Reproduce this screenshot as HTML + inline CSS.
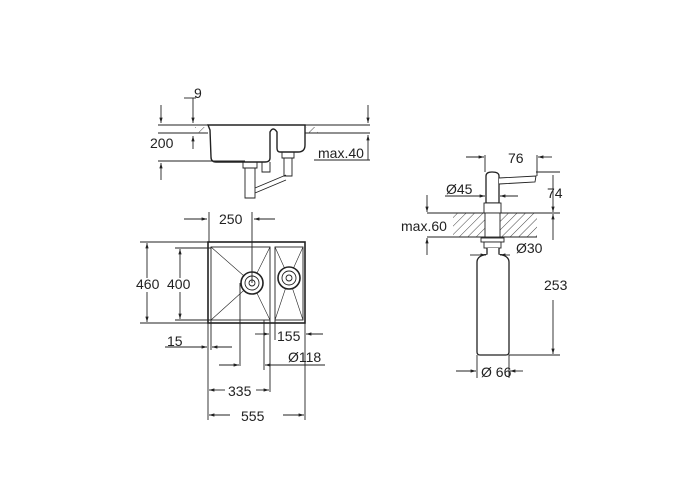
<!DOCTYPE html>
<html><head><style>body{margin:0;background:#fff}svg{display:block}text{font-family:"Liberation Sans",sans-serif;font-size:14px;fill:#222}</style></head><body>
<svg width="700" height="500" viewBox="0 0 700 500" xmlns="http://www.w3.org/2000/svg">
<defs>
<marker id="a" viewBox="0 0 10 10" refX="10" refY="5" markerWidth="8" markerHeight="6" orient="auto-start-reverse"><path d="M0,2L10,5L0,8z" fill="#222"/></marker>
<pattern id="h" width="6" height="6" patternUnits="userSpaceOnUse" patternTransform="rotate(45)"><line x1="0" y1="0" x2="0" y2="6" stroke="#444" stroke-width="1"/></pattern>
</defs>
<g stroke="#222" fill="none" stroke-width="0.9">
<!-- section view -->
<line x1="158" y1="125" x2="370" y2="125"/>
<line x1="158" y1="133" x2="208" y2="133"/>
<line x1="305" y1="133" x2="370" y2="133"/>
<rect x="195" y="127" width="12" height="6" fill="url(#h)" stroke="none"/>
<rect x="306" y="127" width="12" height="6" fill="url(#h)" stroke="none"/>
<path d="M208,125 L305,125 L305,145 Q305,152 298,152 L280,152 Q277,152 277,148 L277,132 Q273,126 270,132 L270,158 Q270,162 265,162 L216,162 Q211,162 211,157 L210,130 Z" stroke-width="1.4"/>
<line x1="158" y1="161" x2="245" y2="161"/>
<path d="M243,162 h14 v6 h-14z M245,168 h10 v30 h-10z M282,152 h12 v6 h-12z M284,158 h8 v18 h-8z M255,188 L286,175 M255,193 L286,180" />
<path d="M262,162 v10 h8 v-10"/>
<!-- 9 / 200 dims -->
<line x1="184" y1="98" x2="196" y2="98"/><line x1="193" y1="98" x2="193" y2="110"/>
<line x1="161" y1="105" x2="161" y2="123" marker-end="url(#a)"/>
<line x1="193" y1="110" x2="193" y2="123" marker-end="url(#a)"/>
<line x1="193" y1="149" x2="193" y2="136" marker-end="url(#a)"/>
<line x1="161" y1="180" x2="161" y2="163" marker-end="url(#a)"/>
<line x1="368" y1="105" x2="368" y2="123" marker-end="url(#a)"/>
<line x1="368" y1="160" x2="368" y2="135" marker-end="url(#a)"/>
<line x1="314" y1="160" x2="370" y2="160"/>
<!-- top view -->
<rect x="208" y="242" width="97" height="81" stroke-width="1.6"/>
<rect x="211" y="247" width="59" height="73"/>
<rect x="275" y="247" width="28" height="73"/>
<path d="M211,247 L252,283 L211,320 M270,247 L252,283 L270,320 M275,247 L289,278 L303,247 M275,320 L289,278 L303,320" stroke-width="0.6"/>
<circle cx="252" cy="283" r="11" fill="#fff" stroke-width="1.6"/><circle cx="252" cy="283" r="7"/><circle cx="252" cy="283" r="3"/>
<circle cx="289" cy="278" r="11" fill="#fff" stroke-width="1.6"/><circle cx="289" cy="278" r="7"/><circle cx="289" cy="278" r="3"/>
<line x1="140" y1="242" x2="208" y2="242"/><line x1="140" y1="323" x2="208" y2="323"/>
<line x1="175" y1="248" x2="211" y2="248"/><line x1="175" y1="320" x2="211" y2="320"/>
<line x1="147" y1="278" x2="147" y2="243" marker-end="url(#a)"/><line x1="147" y1="292" x2="147" y2="322" marker-end="url(#a)"/>
<line x1="180" y1="278" x2="180" y2="249" marker-end="url(#a)"/><line x1="180" y1="292" x2="180" y2="319" marker-end="url(#a)"/>
<line x1="184" y1="219" x2="207" y2="219" marker-end="url(#a)"/><line x1="275" y1="219" x2="254" y2="219" marker-end="url(#a)"/>
<line x1="209" y1="212" x2="209" y2="242"/><line x1="252" y1="212" x2="252" y2="283"/>
<line x1="208" y1="323" x2="208" y2="420"/><line x1="211" y1="320" x2="211" y2="350"/>
<line x1="240" y1="283" x2="240" y2="366"/>
<line x1="270" y1="320" x2="270" y2="392"/><line x1="264" y1="320" x2="264" y2="370"/>
<line x1="275" y1="320" x2="275" y2="340"/><line x1="305" y1="323" x2="305" y2="420"/>
<line x1="165" y1="347" x2="207" y2="347" marker-end="url(#a)"/><line x1="232" y1="347" x2="212" y2="347" marker-end="url(#a)"/>
<line x1="219" y1="365" x2="239" y2="365" marker-end="url(#a)"/><line x1="325" y1="365" x2="265" y2="365" marker-end="url(#a)"/>
<line x1="255" y1="334" x2="269" y2="334" marker-end="url(#a)"/><line x1="323" y1="334" x2="306" y2="334" marker-end="url(#a)"/>
<line x1="225" y1="390" x2="209" y2="390" marker-end="url(#a)"/><line x1="256" y1="390" x2="269" y2="390" marker-end="url(#a)"/>
<line x1="230" y1="415" x2="209" y2="415" marker-end="url(#a)"/><line x1="283" y1="415" x2="304" y2="415" marker-end="url(#a)"/>
<!-- dispenser -->
<rect x="453" y="213" width="84" height="24" fill="url(#h)" stroke="none"/>
<line x1="453" y1="213" x2="560" y2="213"/><line x1="453" y1="237" x2="537" y2="237"/>
<path d="M486,203 L486,176 Q486,172 492,172 Q499,172 499,176 L499,203 Z" fill="#fff" stroke-width="1.3"/>
<path d="M499,178 L536,176 L535,182 L499,184" fill="#fff"/>
<rect x="484" y="203" width="17" height="10" fill="#fff"/>
<rect x="485" y="213" width="15" height="24" fill="#fff"/>
<rect x="481" y="238" width="23" height="4" fill="#fff"/><rect x="484" y="242" width="17" height="6" fill="#fff"/>
<path d="M487,248 L487,254 Q477,256 477,262 L477,352 Q477,355 480,355 L506,355 Q509,355 509,352 L509,262 Q509,256 499,254 L499,248" fill="#fff" stroke-width="1.3"/>
<line x1="485" y1="155" x2="485" y2="172"/><line x1="537" y1="155" x2="537" y2="176"/>
<line x1="466" y1="157" x2="484" y2="157" marker-end="url(#a)"/><line x1="552" y1="157" x2="538" y2="157" marker-end="url(#a)"/>
<line x1="536" y1="172" x2="560" y2="172"/>
<line x1="553" y1="175" x2="553" y2="212" marker-end="url(#a)"/>
<line x1="553" y1="240" x2="553" y2="214" marker-end="url(#a)"/>
<line x1="553" y1="300" x2="553" y2="354" marker-end="url(#a)"/>
<line x1="509" y1="355" x2="560" y2="355"/>
<line x1="445" y1="196" x2="485" y2="196" marker-end="url(#a)"/><line x1="518" y1="196" x2="500" y2="196" marker-end="url(#a)"/>
<line x1="427" y1="213" x2="453" y2="213"/><line x1="427" y1="237" x2="453" y2="237"/>
<line x1="427" y1="195" x2="427" y2="212" marker-end="url(#a)"/><line x1="427" y1="255" x2="427" y2="238" marker-end="url(#a)"/>
<line x1="470" y1="255" x2="486" y2="255" marker-end="url(#a)"/><line x1="510" y1="255" x2="500" y2="255" marker-end="url(#a)"/>
<line x1="456" y1="371" x2="476" y2="371" marker-end="url(#a)"/><line x1="523" y1="371" x2="510" y2="371" marker-end="url(#a)"/>
<line x1="477" y1="355" x2="477" y2="378"/><line x1="509" y1="355" x2="509" y2="378"/>
</g>
<text x="194" y="98">9</text>
<text x="150" y="148">200</text>
<text x="318" y="158">max.40</text>
<text x="219" y="224">250</text>
<text x="136" y="289">460</text>
<text x="167" y="289">400</text>
<text x="167" y="346">15</text>
<text x="277" y="341">155</text>
<text x="288" y="362">Ø118</text>
<text x="228" y="396">335</text>
<text x="241" y="421">555</text>
<text x="508" y="163">76</text>
<text x="547" y="198">74</text>
<text x="446" y="194">Ø45</text>
<text x="401" y="231">max.60</text>
<text x="516" y="253">Ø30</text>
<text x="544" y="290">253</text>
<text x="481" y="377">Ø 66</text>
</svg>
</body></html>
